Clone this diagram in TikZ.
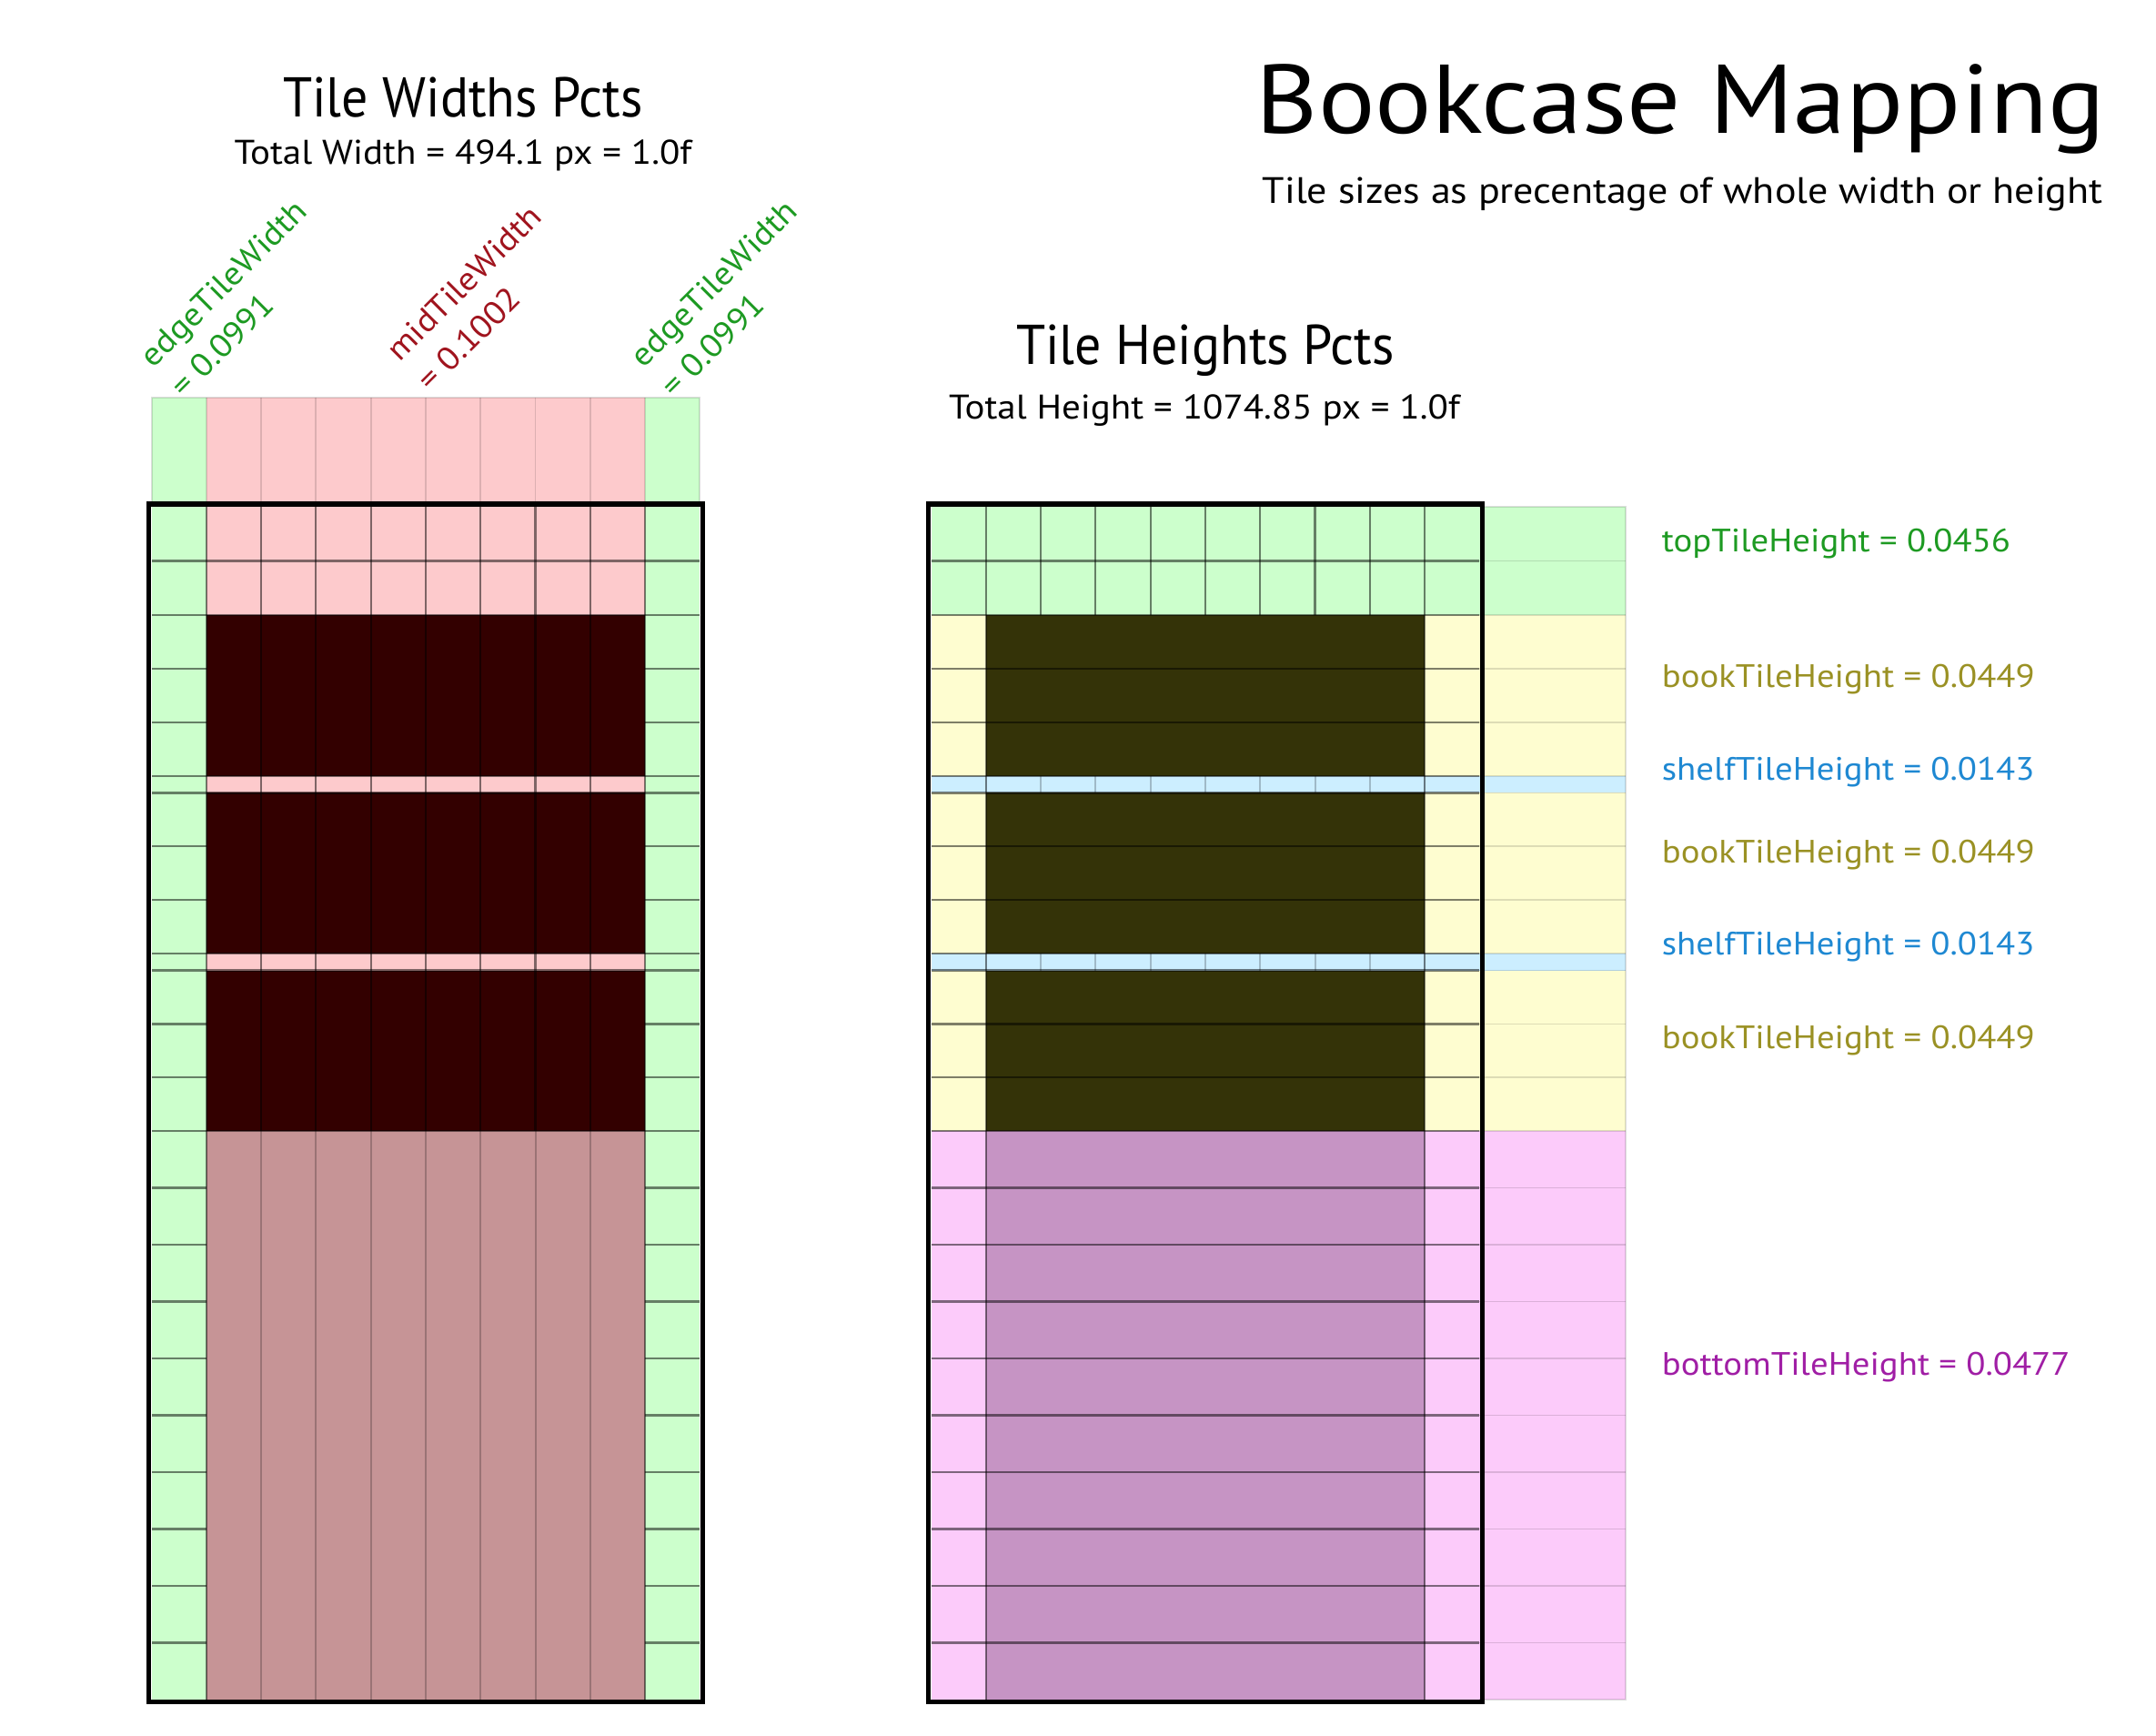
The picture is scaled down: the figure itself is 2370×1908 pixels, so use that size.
\documentclass[tikz,border=0pt]{standalone}
\usepackage{fontspec}
\setmainfont{PT Sans}[FakeStretch=1.09]
\newfontfamily\headfont{PT Sans}[FakeStretch=0.94]
\definecolor{tileGreen}{HTML}{CCFFCC}
\definecolor{tilePink}{HTML}{FDCACC}
\definecolor{bookMaroon}{HTML}{330000}
\definecolor{baseRose}{HTML}{C69496}
\definecolor{tileYellow}{HTML}{FEFDD0}
\definecolor{bookOlive}{HTML}{343308}
\definecolor{shelfBlue}{HTML}{CCEEFF}
\definecolor{tileMagenta}{HTML}{FCCBFA}
\definecolor{basePurple}{HTML}{C694C4}
\definecolor{txtGreen}{HTML}{1D9A22}
\definecolor{txtRed}{HTML}{A0141E}
\definecolor{txtOlive}{HTML}{9A9124}
\definecolor{txtBlue}{HTML}{1E88D2}
\definecolor{txtPurple}{HTML}{A01EA5}

% column edges, measured from a panel's inner left side
\def\cA{59.7}    % end of the left edge column
\def\cB{542.1}   % start of the right edge column
\def\cW{601.8}   % inner width
\def\midcols{120.0,180.3,240.6,300.9,361.2,421.5,481.8}
% row edges (y grows downward)
\def\rTop{556.7}
\def\rOne{616.4}
\def\rT{676.2}
\def\rSa{852.6}
\def\rSb{871.4}
\def\rSc{1047.8}
\def\rSd{1066.5}
\def\rB{1243.0}
\def\rEnd{1867.9}
\def\rowlines{616.4,676.2,735.0,793.8,852.6,871.4,930.2,989.0,1047.8,1066.5,1125.4,1184.2,1243.0,1305.5,1368.0,1430.5,1493.0,1555.4,1617.9,1680.4,1742.9,1805.4}

% two-line label, left aligned, baseline on the first line
\newcommand{\twoline}[2]{\begin{tabular}[t]{@{}l@{}}#1\\#2\end{tabular}}

\begin{document}
\begin{tikzpicture}[x=0.25pt,y=-0.25pt,
  gridln/.style={draw=black,draw opacity=0.5,line width=0.55pt},
  softln/.style={draw=black,draw opacity=0.22,line width=0.5pt},
  faintln/.style={draw=black,draw opacity=0.13,line width=0.45pt},
  frame/.style={draw=black,line width=1.4pt},
  txt/.style={inner sep=0pt,text=black},
  headfont/.style={font=\headfont\fontsize{15.4}{18}\selectfont},
  totalfont/.style={font=\fontsize{9.4}{11}\selectfont},
  slanted/.style={inner sep=0pt,rotate=45,anchor=base west,font=\fontsize{8.9}{11.85}\selectfont},
  sidelbl/.style={inner sep=0pt,anchor=base west,font=\fontsize{8.9}{10}\selectfont}]
\useasboundingbox (0,0) rectangle (2370,1908);

% ---------- widths panel ----------
\begin{scope}[shift={(167,0)}]
  % header strip above the case
  \fill[tileGreen] (0,436.7) rectangle (\cA,552);
  \fill[tilePink] (\cA,436.7) rectangle (\cB,552);
  \fill[tileGreen] (\cB,436.7) rectangle (\cW,552);
  \foreach \x in \midcols \draw[faintln] (\x,436.7) -- (\x,552);
  \draw[faintln] (\cA,436.7) -- (\cA,552) (\cB,436.7) -- (\cB,552);
  \draw[faintln] (0,552) -- (0,436.7) -- (\cW,436.7) -- (\cW,552);
  % tiles
  \fill[tileGreen] (0,\rTop) rectangle (\cA,\rEnd);
  \fill[tileGreen] (\cB,\rTop) rectangle (\cW,\rEnd);
  \fill[tilePink] (\cA,\rTop) rectangle (\cB,\rT);
  \fill[bookMaroon] (\cA,\rT) rectangle (\cB,\rSa);
  \fill[tilePink] (\cA,\rSa) rectangle (\cB,\rSb);
  \fill[bookMaroon] (\cA,\rSb) rectangle (\cB,\rSc);
  \fill[tilePink] (\cA,\rSc) rectangle (\cB,\rSd);
  \fill[bookMaroon] (\cA,\rSd) rectangle (\cB,\rB);
  \fill[baseRose] (\cA,\rB) rectangle (\cB,\rEnd);
  % row lines
  \foreach \y in \rowlines {
    \draw[gridln] (0,\y) -- (\cA,\y);
    \draw[gridln] (\cB,\y) -- (\cW,\y);
  }
  \foreach \y in {\rOne,\rT,\rSa,\rSb,\rSc,\rSd,\rB} \draw[gridln] (\cA,\y) -- (\cB,\y);
  % column lines
  \foreach \x in \midcols {
    \draw[gridln] (\x,\rTop) -- (\x,\rB);
    \draw[softln] (\x,\rB) -- (\x,\rEnd);
  }
  \draw[gridln] (\cA,\rTop) -- (\cA,\rEnd) (\cB,\rTop) -- (\cB,\rEnd);
\end{scope}
\draw[frame] (163.5,554) rectangle (772.3,1870.5);

% ---------- heights panel ----------
\begin{scope}[shift={(1024,0)}]
  % strip beside the case
  \fill[tileGreen] (\cW,\rTop) rectangle (763,\rT);
  \fill[tileYellow] (\cW,\rT) rectangle (763,\rB);
  \fill[shelfBlue] (\cW,\rSa) rectangle (763,\rSb);
  \fill[shelfBlue] (\cW,\rSc) rectangle (763,\rSd);
  \fill[tileMagenta] (\cW,\rB) rectangle (763,\rEnd);
  \foreach \y in \rowlines \draw[faintln] (\cW,\y) -- (763,\y);
  \draw[faintln] (\cW,\rTop) -- (763,\rTop) -- (763,\rEnd) -- (\cW,\rEnd);
  % tiles
  \fill[tileGreen] (0,\rTop) rectangle (\cW,\rT);
  \fill[tileYellow] (0,\rT) rectangle (\cA,\rB);
  \fill[tileYellow] (\cB,\rT) rectangle (\cW,\rB);
  \fill[bookOlive] (\cA,\rT) rectangle (\cB,\rB);
  \fill[shelfBlue] (0,\rSa) rectangle (\cW,\rSb);
  \fill[shelfBlue] (0,\rSc) rectangle (\cW,\rSd);
  \fill[tileMagenta] (0,\rB) rectangle (\cA,\rEnd);
  \fill[tileMagenta] (\cB,\rB) rectangle (\cW,\rEnd);
  \fill[basePurple] (\cA,\rB) rectangle (\cB,\rEnd);
  % row lines
  \foreach \y in \rowlines \draw[gridln] (0,\y) -- (\cW,\y);
  % column lines
  \foreach \x in \midcols {
    \draw[gridln] (\x,\rTop) -- (\x,\rT);
    \draw[softln] (\x,\rSa) -- (\x,\rSb) (\x,\rSc) -- (\x,\rSd);
  }
  \draw[gridln] (\cA,\rTop) -- (\cA,\rEnd) (\cB,\rTop) -- (\cB,\rEnd);
\end{scope}
\draw[frame] (1020.5,554) rectangle (1629.3,1870.5);

% ---------- titles ----------
\node[txt,anchor=base west,font=\fontsize{26.8}{30}\selectfont] (title) at (1380,146.7) {Bookcase Mapping};
\node[txt,anchor=base west,font=\fontsize{10.1}{12}\selectfont] (subtitle) at (1387,223.3) {Tile sizes as precentage of whole width or height};
\node[txt,anchor=base,headfont] (widthsHead) at (509,128.3) {Tile Widths Pcts};
\node[txt,anchor=base,totalfont] (widthsTotal) at (509,180.7) {Total Width = 494.1 px = 1.0f};
\node[txt,anchor=base,headfont] (heightsHead) at (1325,400) {Tile Heights Pcts};
\node[txt,anchor=base,totalfont] (heightsTotal) at (1324,460) {Total Height = 1074.85 px = 1.0f};

% ---------- width labels ----------
\node[slanted,text=txtGreen] (edgeL) at (168,406) {\twoline{edgeTileWidth}{= 0.0991}};
\node[slanted,text=txtRed] (midW) at (439,399) {\twoline{midTileWidth}{= 0.1002}};
\node[slanted,text=txtGreen] (edgeR) at (707,406) {\twoline{edgeTileWidth}{= 0.0991}};

% ---------- height labels ----------
\node[sidelbl,text=txtGreen] (topLbl) at (1826,606) {topTileHeight = 0.0456};
\node[sidelbl,text=txtOlive] (bookLblA) at (1826,755) {bookTileHeight = 0.0449};
\node[sidelbl,text=txtBlue] (shelfLblA) at (1826,857.5) {shelfTileHeight = 0.0143};
\node[sidelbl,text=txtOlive] (bookLblB) at (1826,948) {bookTileHeight = 0.0449};
\node[sidelbl,text=txtBlue] (shelfLblB) at (1826,1049.5) {shelfTileHeight = 0.0143};
\node[sidelbl,text=txtOlive] (bookLblC) at (1826,1152) {bookTileHeight = 0.0449};
\node[sidelbl,text=txtPurple] (bottomLbl) at (1826,1511) {bottomTileHeight = 0.0477};
\end{tikzpicture}
\end{document}
